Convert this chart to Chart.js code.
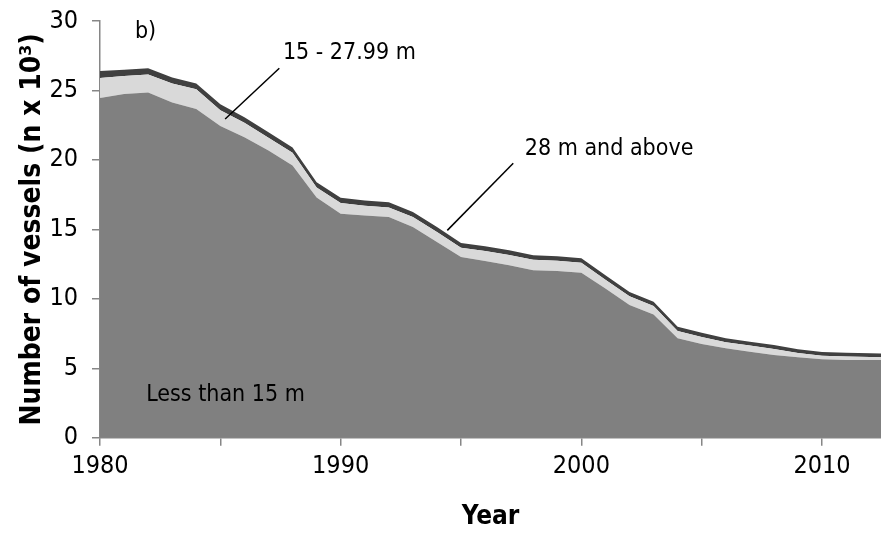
<!DOCTYPE html>
<html>
<head>
<meta charset="utf-8">
<script src="https://cdn.jsdelivr.net/npm/chart.js@4.4.1/dist/chart.umd.min.js"></script>
<style>
    html, body { margin: 0; padding: 0; background: #ffffff; }
    #wrap { width: 881px; height: 533px; position: relative; }
</style>
</head>
<body>
<div id="wrap"><canvas id="vessels"></canvas></div>
<script>
"use strict";

// Aantal schepen per lengteklasse (x 1000).
const years = [1980, 1981, 1982, 1983, 1984, 1985, 1986, 1987, 1988, 1989,
    1990, 1991, 1992, 1993, 1994, 1995, 1996, 1997, 1998, 1999,
    2000, 2001, 2002, 2003, 2004, 2005, 2006, 2007, 2008, 2009,
    2010, 2011, 2012, 2013];

const lessThan15 = [24.46, 24.75, 24.86, 24.14, 23.67, 22.45, 21.63, 20.67, 19.6, 17.3,
    16.13, 16.0, 15.89, 15.17, 14.09, 13.02, 12.73, 12.42, 12.06, 12.01,
    11.88, 10.74, 9.55, 8.88, 7.16, 6.75, 6.44, 6.2, 5.96, 5.79,
    5.65, 5.6, 5.6, 5.58];

const from15to28 = [1.44, 1.3, 1.29, 1.36, 1.41, 1.13, 1.04, 0.93, 0.92, 0.72,
    0.77, 0.7, 0.69, 0.72, 0.72, 0.66, 0.71, 0.74, 0.75, 0.73,
    0.72, 0.64, 0.63, 0.61, 0.53, 0.51, 0.44, 0.44, 0.44, 0.31,
    0.25, 0.25, 0.21, 0.2];

const above28 = [0.5, 0.45, 0.45, 0.44, 0.42, 0.42, 0.4, 0.4, 0.38, 0.38,
    0.38, 0.38, 0.38, 0.36, 0.36, 0.34, 0.34, 0.34, 0.33, 0.33,
    0.32, 0.32, 0.32, 0.3, 0.3, 0.3, 0.28, 0.28, 0.28, 0.27,
    0.27, 0.27, 0.27, 0.27];

// Streepjes op de x-as om de 5 jaar, met een label om de 10 jaar.
const xTickValues = [1980, 1985, 1990, 1995, 2000, 2005, 2010];

const seriesNames = ["Less than 15 m", "15 - 27.99 m", "28 m and above"];
const seriesColors = ["#808080", "#d9d9d9", "#404040"];

const fontFamily = "Tahoma, 'DejaVu Sans Condensed', 'DejaVu Sans', sans-serif";

// Teksten in de grafiek, met plaats in data-eenheden (jaar, aantal).
const notes = [
    { text: "b)", x: 1981.45, y: 29.2 },
    { text: "15 - 27.99 m", x: 1987.6, y: 27.7, from: [1985.2, 22.95], to: [1987.45, 26.6] },
    { text: "28 m and above", x: 1997.65, y: 20.8, from: [1994.43, 14.93], to: [1997.17, 19.76] },
    { text: "Less than 15 m", x: 1981.92, y: 3.09 }
];

function toPoints(values) {
    return values.map((value, i) => ({ x: years[i], y: value }));
}

// Teken de labels en verbindingslijnen boven op de vlakken.
const noteLayer = {
    id: "noteLayer",
    afterDatasetsDraw(chart) {
        const ctx = chart.ctx;
        const xs = chart.scales.x;
        const ys = chart.scales.y;

        ctx.save();
        ctx.strokeStyle = "#000000";
        ctx.lineWidth = 1.5;
        ctx.fillStyle = "#000000";
        ctx.font = "23px " + fontFamily;
        ctx.textAlign = "left";
        ctx.textBaseline = "middle";

        notes.forEach((note) => {
            if (note.from) {
                ctx.beginPath();
                ctx.moveTo(xs.getPixelForValue(note.from[0]), ys.getPixelForValue(note.from[1]));
                ctx.lineTo(xs.getPixelForValue(note.to[0]), ys.getPixelForValue(note.to[1]));
                ctx.stroke();
            }
            ctx.fillText(note.text, xs.getPixelForValue(note.x), ys.getPixelForValue(note.y));
        });

        ctx.restore();
    }
};

const data = {
    datasets: [lessThan15, from15to28, above28].map((values, i) => ({
        label: seriesNames[i],
        data: toPoints(values),
        backgroundColor: seriesColors[i],
        borderColor: seriesColors[i],
        borderWidth: 0,
        pointRadius: 0,
        tension: 0,
        fill: i === 0 ? "origin" : "-1"
    }))
};

const config = {
    type: "line",
    data: data,
    options: {
        responsive: true,
        maintainAspectRatio: false,
        animation: false,
        layout: {
            padding: { top: 0, right: 0, left: 16, bottom: 0 }
        },
        scales: {
            x: {
                type: "linear",
                min: 1980,
                max: 2012.45,
                afterBuildTicks(scale) {
                    scale.ticks = xTickValues.map((value) => ({ value: value }));
                },
                ticks: {
                    color: "#000000",
                    padding: 6,
                    maxRotation: 0,
                    autoSkip: false,
                    font: { family: fontFamily, size: 25 },
                    callback(value) {
                        return value % 10 === 0 ? String(value) : "";
                    }
                },
                grid: {
                    drawOnChartArea: false,
                    drawTicks: true,
                    tickLength: 8,
                    color: "#868686",
                    lineWidth: 1.5
                },
                border: { color: "#868686", width: 1.5 },
                title: {
                    display: true,
                    text: "Year",
                    color: "#000000",
                    font: { family: fontFamily, size: 26, weight: "bold" },
                    padding: { top: 14, bottom: 0 }
                }
            },
            y: {
                stacked: true,
                min: 0,
                max: 30,
                afterFit(scale) {
                    scale.width = 84;
                    scale.paddingTop = 21;
                    scale.paddingBottom = 0;
                },
                ticks: {
                    stepSize: 5,
                    color: "#000000",
                    padding: 14,
                    font: { family: fontFamily, size: 25 }
                },
                grid: {
                    drawOnChartArea: false,
                    drawTicks: true,
                    tickLength: 8,
                    color: "#868686",
                    lineWidth: 1.5
                },
                border: { color: "#868686", width: 1.5 },
                title: {
                    display: true,
                    text: "Number of vessels (n x 10³)",
                    color: "#000000",
                    font: { family: fontFamily, size: 28, weight: "bold" },
                    padding: { top: 0, bottom: 0 }
                }
            }
        },
        plugins: {
            legend: { display: false },
            tooltip: { enabled: false },
            filler: { propagate: false }
        }
    },
    plugins: [noteLayer]
};

new Chart(document.getElementById("vessels"), config);
</script>
</body>
</html>
